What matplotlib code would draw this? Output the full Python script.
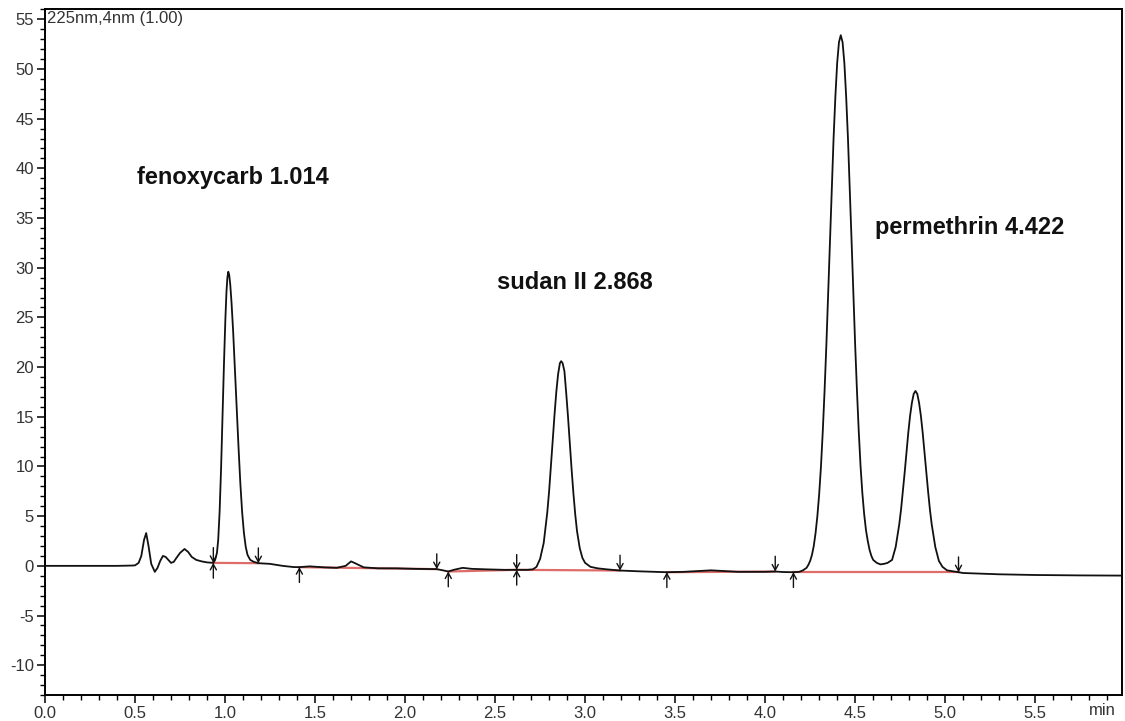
import matplotlib.pyplot as plt
from matplotlib.ticker import MultipleLocator
import numpy as np

plt.rcParams['font.family'] = ['Liberation Sans', 'DejaVu Sans']
plt.rcParams['axes.unicode_minus'] = False

# chromatogram trace (min, mAU)
time_min = [
    0.00, 0.20, 0.40, 0.48, 0.50, 0.52, 0.535, 0.55, 0.562, 0.575, 0.59, 0.61,
    0.625, 0.64, 0.655, 0.67, 0.685, 0.70, 0.715, 0.73, 0.75, 0.775, 0.795,
    0.815, 0.84, 0.87, 0.90,
    # fenoxycarb
    0.935, 0.945, 0.955, 0.962, 0.970, 0.978, 0.986, 0.994, 1.002, 1.008,
    1.013, 1.018, 1.023, 1.029, 1.036, 1.045, 1.055, 1.065, 1.075, 1.085,
    1.095, 1.105, 1.115, 1.125, 1.14, 1.16, 1.185,
    1.25, 1.32, 1.38, 1.413, 1.47, 1.55, 1.62, 1.67, 1.70, 1.73, 1.77, 1.85,
    1.95, 2.05, 2.176, 2.21, 2.24, 2.27, 2.32, 2.37, 2.45, 2.55, 2.62, 2.68,
    2.71, 2.73, 2.75, 2.77,
    # sudan II
    2.79, 2.80, 2.81, 2.82, 2.83, 2.84, 2.85, 2.86, 2.867, 2.875, 2.885,
    2.895, 2.905, 2.915, 2.925, 2.935, 2.945, 2.955, 2.97, 2.985, 3.00,
    3.03, 3.07, 3.12, 3.194, 3.30, 3.454, 3.55, 3.65, 3.70, 3.75, 3.85, 4.00,
    4.056, 4.10, 4.157, 4.19, 4.21,
    # permethrin
    4.23, 4.24, 4.25, 4.26, 4.27, 4.28, 4.29, 4.30, 4.31, 4.32, 4.33, 4.34,
    4.35, 4.36, 4.37, 4.38, 4.39, 4.40, 4.41, 4.42, 4.43, 4.44, 4.45, 4.46,
    4.47, 4.48, 4.49, 4.50, 4.51, 4.52, 4.53, 4.54, 4.55, 4.56, 4.57, 4.58,
    4.59, 4.60, 4.62, 4.64, 4.66, 4.68, 4.705, 4.725, 4.745, 4.755, 4.765,
    4.775, 4.785, 4.795, 4.805, 4.815, 4.825, 4.835, 4.845, 4.855, 4.865,
    4.875, 4.885, 4.895, 4.905, 4.915, 4.925, 4.945, 4.965, 4.985, 5.01,
    5.074, 5.10, 5.30, 5.50, 5.75, 5.98,
]
signal = [
    0.00, 0.00, 0.00, 0.03, 0.05, 0.30, 1.00, 2.60, 3.30, 2.00, 0.20, -0.60,
    -0.20, 0.50, 1.00, 0.90, 0.60, 0.30, 0.40, 0.80, 1.30, 1.70, 1.40,
    0.90, 0.60, 0.45, 0.35,
    0.30, 0.60, 1.30, 2.60, 5.50, 9.80, 15.0, 20.3, 24.9, 27.6,
    29.0, 29.6, 29.3, 28.3, 26.5, 23.6, 19.8, 15.8, 11.9, 8.30,
    5.40, 3.30, 1.90, 1.10, 0.60, 0.40, 0.27,
    0.20, 0.00, -0.12, -0.13, -0.05, -0.15, -0.20, 0.00, 0.45, 0.20, -0.15, -0.25,
    -0.25, -0.30, -0.33, -0.45, -0.57, -0.40, -0.20, -0.30, -0.35, -0.40, -0.40, -0.40,
    -0.35, -0.10, 0.70, 2.30,
    5.40, 7.50, 10.0, 12.6, 15.2, 17.5, 19.3, 20.4, 20.6, 20.4, 19.6,
    17.4, 15.0, 12.3, 9.70, 7.30, 5.20, 3.50, 1.80, 0.80, 0.30,
    -0.10, -0.25, -0.35, -0.47, -0.55, -0.64, -0.60, -0.50, -0.45, -0.50, -0.60, -0.60,
    -0.57, -0.62, -0.64, -0.60, -0.45,
    -0.20, 0.10, 0.50, 1.10, 2.00, 3.30, 5.00, 7.20, 10.0, 13.5, 17.6, 22.2,
    27.4, 32.7, 38.0, 43.0, 47.2, 50.6, 52.7, 53.4, 52.7, 50.6, 47.2, 43.0,
    38.0, 32.7, 27.4, 22.2, 17.6, 13.5, 10.0, 7.30, 5.20, 3.60, 2.50, 1.60,
    1.00, 0.60, 0.30, 0.15, 0.20, 0.30, 0.60, 1.90, 4.20, 5.70, 7.50,
    9.40, 11.4, 13.4, 15.1, 16.4, 17.3, 17.6, 17.3, 16.4, 15.1,
    13.4, 11.4, 9.40, 7.50, 5.70, 4.20, 1.90, 0.50, -0.10, -0.45,
    -0.64, -0.72, -0.85, -0.92, -0.96, -0.98,
]

# integration events
peak_starts = [0.935, 1.413, 2.24, 2.62, 3.454, 4.157]
peak_ends = [0.935, 1.185, 2.176, 2.62, 3.194, 4.056, 5.074]

compound_names = ['fenoxycarb', 'sudan II', 'permethrin']
retention_times = ['1.014', '2.868', '4.422']
label_pos = [(0.51, 39.1), (2.51, 28.5), (4.61, 34.0)]

t = np.array(time_min)
s = np.array(signal)

fig = plt.figure(figsize=(11.25, 7.21), dpi=100)
ax = fig.add_axes([0.04, 0.036, 0.957, 0.951])

# integration baselines (red), start of one peak to the end of the next
for st, en in zip(peak_starts, peak_ends[1:]):
    ax.plot([st, en], [np.interp(st, t, s), np.interp(en, t, s)],
            color='#d9534f', lw=1.6, alpha=0.85, zorder=2)

ax.plot(t, s, color='#111111', lw=1.3, zorder=3)

arrow = dict(arrowstyle='->,head_length=0.4,head_width=0.22', color='#111111',
             lw=1.0, shrinkA=0, shrinkB=0)
for st in peak_starts:
    ax.annotate('', xy=(st, np.interp(st, t, s)), xytext=(0, -11),
                textcoords='offset points', arrowprops=arrow, zorder=4)
for en in peak_ends:
    ax.annotate('', xy=(en, np.interp(en, t, s)), xytext=(0, 11),
                textcoords='offset points', arrowprops=arrow, zorder=4)

for name, rt, pos in zip(compound_names, retention_times, label_pos):
    ax.text(pos[0], pos[1], f'{name} {rt}', fontsize=17, fontweight='bold',
            va='center', ha='left', color='#111111')

ax.text(0.002, 0.997, '225nm,4nm (1.00)', transform=ax.transAxes, fontsize=12,
        va='top', ha='left', color='#333333')
ax.text(0.995, -0.012, 'min', transform=ax.transAxes, fontsize=12,
        va='top', ha='right', color='#333333')

ax.set_xlim(0, 5.98)
ax.set_ylim(-13, 56)
ax.xaxis.set_minor_locator(MultipleLocator(0.1))
ax.yaxis.set_major_locator(MultipleLocator(5))
ax.yaxis.set_minor_locator(MultipleLocator(1))
xt = np.arange(0, 5.51, 0.5)
ax.set_xticks(xt)
ax.set_xticklabels([f'{v:.1f}' for v in xt])
ax.tick_params(which='major', length=6, width=1.1, labelsize=12,
               labelcolor='#333333', pad=2)
ax.tick_params(which='minor', length=3.5, width=1.0)
for sp in ax.spines.values():
    sp.set_linewidth(1.4)

fig.savefig('out.png', dpi=100)
